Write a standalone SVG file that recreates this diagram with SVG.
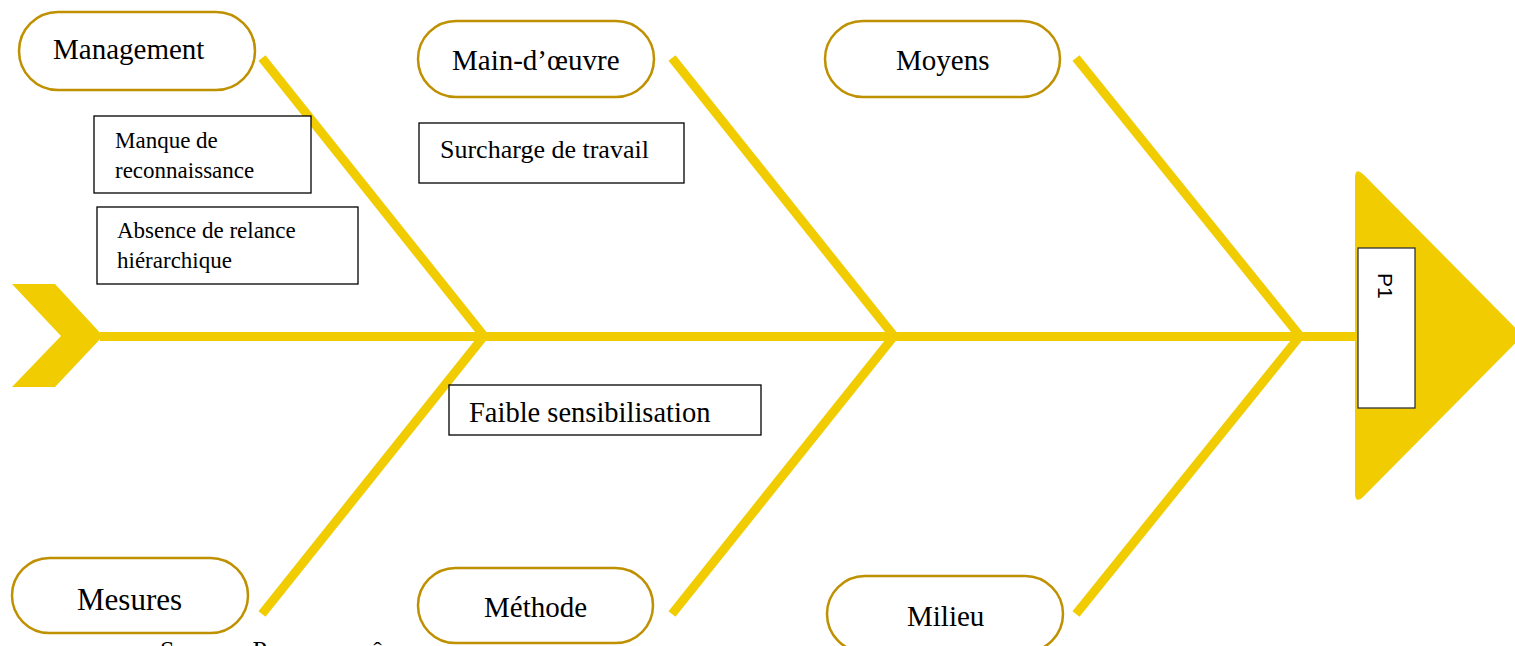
<svg xmlns="http://www.w3.org/2000/svg" width="1515" height="646" viewBox="0 0 1515 646">
  <style>
    .bone { stroke: #F0CC00; stroke-width: 9; stroke-linecap: butt; fill: none; }
    .fish { fill: #F0CC00; }
    .cat rect { fill: #FFFFFF; stroke: #BF9000; stroke-width: 2.5; }
    .cat text { font-family: "Liberation Serif", "Times New Roman", serif; font-size: 29px; fill: #000000; }
    .cause rect { fill: #FFFFFF; stroke: #000000; stroke-width: 1.3; }
    .cause text { font-family: "Liberation Serif", "Times New Roman", serif; font-size: 23px; fill: #000000; }
    .effect rect { fill: #FFFFFF; stroke: #333333; stroke-width: 1.3; }
    .effect text { font-family: "Liberation Sans", Arial, sans-serif; font-size: 21px; fill: #000000; }
    .note { font-family: "Liberation Serif", "Times New Roman", serif; font-size: 26px; fill: #000000; }
  </style>
  <rect width="1515" height="646" fill="#FFFFFF"/>

  <!-- spine, bones, tail and head -->
  <g id="connectors">
    <path class="fish" d="M12,284 L55,284 L103,336 L55,387 L12,387 L61,336 Z"/>
    <line class="bone" x1="100" y1="336.5" x2="1358" y2="336.5"/>
    <line class="bone" x1="484" y1="336" x2="262" y2="58"/>
    <line class="bone" x1="894" y1="336" x2="672" y2="58"/>
    <line class="bone" x1="1300" y1="336" x2="1076" y2="58"/>
    <line class="bone" x1="484" y1="336" x2="262" y2="614"/>
    <line class="bone" x1="894" y1="336" x2="672" y2="614"/>
    <line class="bone" x1="1300" y1="336" x2="1076" y2="614"/>
  </g>

  <!-- effect (head) -->
  <g id="head" class="effect">
    <path class="fish" d="M1355,178 Q1355,166 1364,175 L1523,335.5 L1364,496 Q1355,505 1355,493 Z"/>
    <rect x="1358" y="248" width="57" height="160"/>
    <text transform="translate(1378,273) rotate(90)">P1</text>
  </g>

  <!-- categories -->
  <g id="management" class="cat">
    <rect x="19" y="12" width="236" height="78" rx="39" ry="39"/>
    <text x="53" y="59">Management</text>
  </g>
  <g id="main-oeuvre" class="cat">
    <rect x="418" y="21" width="236" height="76" rx="38" ry="38"/>
    <text x="452" y="70">Main-d’œuvre</text>
  </g>
  <g id="moyens" class="cat">
    <rect x="825" y="21" width="235" height="76" rx="38" ry="38"/>
    <text x="896" y="70">Moyens</text>
  </g>
  <g id="mesures" class="cat">
    <rect x="12" y="558" width="236" height="75" rx="37.5" ry="37.5"/>
    <text x="77" y="610" style="font-size:31px">Mesures</text>
  </g>
  <g id="methode" class="cat">
    <rect x="418" y="568" width="235" height="75" rx="37.5" ry="37.5"/>
    <text x="484" y="617">Méthode</text>
  </g>
  <g id="milieu" class="cat">
    <rect x="827" y="576" width="236" height="76" rx="38" ry="38"/>
    <text x="907" y="626">Milieu</text>
  </g>

  <!-- causes -->
  <g id="manque-reconnaissance" class="cause">
    <rect x="94" y="116" width="217" height="77"/>
    <text x="115" y="148">Manque de</text>
    <text x="115" y="178">reconnaissance</text>
  </g>
  <g id="absence-relance" class="cause">
    <rect x="97" y="207" width="261" height="77"/>
    <text x="117" y="238">Absence de relance</text>
    <text x="117" y="268">hiérarchique</text>
  </g>
  <g id="surcharge-travail" class="cause">
    <rect x="419" y="123" width="265" height="60"/>
    <text x="440" y="158" style="font-size:26px">Surcharge de travail</text>
  </g>
  <g id="faible-sensibilisation" class="cause">
    <rect x="449" y="385" width="312" height="50"/>
    <text x="469" y="422" style="font-size:28.5px">Faible sensibilisation</text>
  </g>

  <text class="note" x="160" y="659">Source : Par nous-mêmes</text>
</svg>
